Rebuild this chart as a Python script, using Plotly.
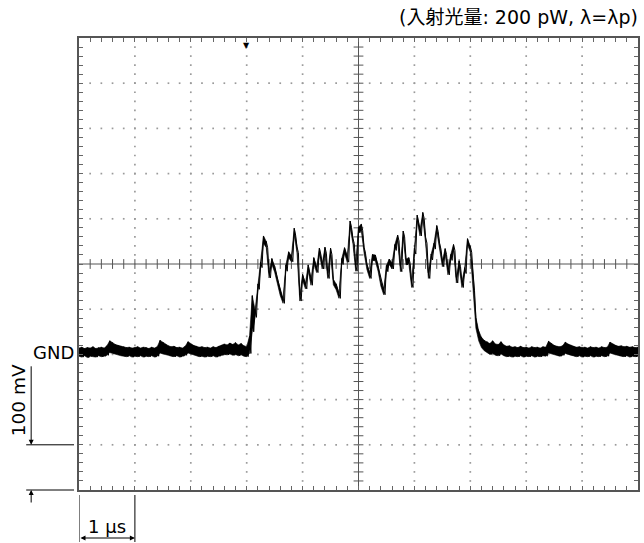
import plotly.graph_objects as go

# ---- data: oscilloscope record, one column every 0.05 us, envelope in mV relative to GND ----
COLUMN_US = 0.05
envelope_hi_mv = [
    14, 16, 13, 15, 14, 17, 13, 15, 16, 14,
    19, 30, 26, 22, 20, 18, 17, 15, 16, 14,
    15, 17, 14, 16, 15, 13, 16, 14, 17, 31,
    27, 22, 19, 17, 18, 15, 16, 14, 18, 28,
    23, 20, 18, 16, 17, 15, 16, 14, 17, 15,
    18, 20, 23, 21, 25, 22, 26, 21, 24, 19,
    17, 40, 130, 98, 156, 204, 262, 250, 182, 212,
    195, 167, 144, 124, 198, 227, 218, 279, 238, 131,
    177, 157, 198, 165, 214, 193, 235, 201, 237, 180,
    235, 166, 156, 135, 212, 236, 217, 295, 257, 197,
    282, 288, 237, 200, 181, 221, 220, 197, 164, 144,
    197, 211, 202, 243, 264, 196, 273, 211, 214, 161,
    235, 308, 275, 314, 259, 181, 222, 246, 285, 246,
    207, 234, 189, 221, 243, 171, 207, 161, 192, 256,
    239, 178, 82, 52, 38, 31, 28, 24, 30, 23,
    22, 28, 21, 18, 19, 16, 17, 15, 18, 15,
    16, 14, 17, 15, 16, 14, 17, 16, 29, 24,
    20, 18, 17, 19, 27, 23, 20, 18, 16, 17,
    15, 16, 14, 17, 15, 16, 14, 17, 15, 16,
    27, 23, 20, 18, 19, 17, 18, 16, 17, 15,
    16,
]
envelope_lo_mv = [
    -4, -6, -3, -7, -4, -5, -6, -3, -5, -4,
    -2, 4, 2, 1, -1, -3, -4, -5, -3, -6,
    -4, -5, -3, -6, -4, -5, -3, -6, -4, 3,
    1, 0, -2, -4, -5, -3, -6, -4, -2, 3,
    1, -1, -3, -5, -4, -6, -4, -5, -3, -6,
    -4, -2, 0, -1, 1, -2, 0, -3, -1, -4,
    -5, 2, 50, 82, 144, 192, 246, 236, 169, 199,
    182, 155, 130, 113, 184, 214, 205, 264, 225, 118,
    164, 145, 184, 153, 201, 181, 222, 189, 224, 168,
    221, 154, 143, 124, 199, 223, 204, 281, 245, 184,
    269, 274, 224, 188, 168, 208, 207, 184, 151, 132,
    183, 199, 189, 230, 251, 183, 260, 198, 201, 148,
    222, 295, 262, 301, 246, 168, 209, 233, 272, 233,
    194, 221, 176, 208, 230, 158, 194, 148, 179, 243,
    226, 142, 58, 30, 15, 8, 4, 0, 2, -2,
    -3, 1, -3, -5, -4, -6, -4, -5, -3, -6,
    -4, -5, -3, -6, -4, -5, -3, -4, 3, 1,
    -1, -3, -4, -2, 2, 0, -2, -4, -5, -3,
    -6, -4, -5, -3, -6, -4, -5, -3, -5, -4,
    3, 1, -1, -3, -4, -5, -3, -6, -4, -5,
    -4,
]
time_us = [i * COLUMN_US for i in range(len(envelope_hi_mv))]

X_RANGE = [0, 10]          # 1 us/div, 10 div
Y_RANGE = [-300, 700]      # 100 mV/div, GND 2 div below centre
X_CENTER, Y_CENTER = 5, 200
TRIGGER_US = 3
TITLE = "(入射光量: 200 pW, λ=λp)"

FONT = "DejaVu Sans, Noto Sans CJK JP, sans-serif"
GRID = "#9a9a9a"

fig = go.Figure()

# dotted graticule
gx, gy = [], []
for xv in range(1, 10):
    if xv == X_CENTER:
        continue
    for k in range(1, 50):
        gx.append(xv); gy.append(Y_RANGE[0] + 20 * k)
for yv in range(-200, 700, 100):
    if yv == Y_CENTER:
        continue
    for k in range(1, 50):
        gx.append(0.2 * k); gy.append(yv)
fig.add_trace(go.Scatter(x=gx, y=gy, mode="markers", hoverinfo="skip",
                         marker=dict(symbol="square", size=1.7, color=GRID, line=dict(width=0))))

# ticks on centre cross
cx = [0.2 * k for k in range(1, 50)]
fig.add_trace(go.Scatter(x=cx, y=[Y_CENTER] * len(cx), mode="markers", hoverinfo="skip",
                         marker=dict(symbol="line-ns", size=7, line=dict(width=1, color="#555"))))
cy = [Y_RANGE[0] + 20 * k for k in range(1, 50)]
fig.add_trace(go.Scatter(x=[X_CENTER] * len(cy), y=cy, mode="markers", hoverinfo="skip",
                         marker=dict(symbol="line-ew", size=7, line=dict(width=1, color="#555"))))

# signal envelope: solid core ...
fig.add_trace(go.Scatter(x=time_us, y=envelope_lo_mv, mode="lines",
                         line=dict(color="black", width=0.6), hoverinfo="skip"))
fig.add_trace(go.Scatter(x=time_us, y=envelope_hi_mv, mode="lines", fill="tonexty",
                         fillcolor="black", line=dict(color="black", width=0.6), hoverinfo="skip"))
# ... plus the scribble: each column drawn top -> bottom
zx, zy = [], []
for t, h, l in zip(time_us, envelope_hi_mv, envelope_lo_mv):
    zx += [t, t + COLUMN_US / 2]
    zy += [h, l]
fig.add_trace(go.Scatter(x=zx, y=zy, mode="lines", line=dict(color="black", width=1.0),
                         hoverinfo="skip"))

# centre cross lines
fig.add_shape(type="line", x0=X_CENTER, x1=X_CENTER, y0=Y_RANGE[0], y1=Y_RANGE[1],
              xref="x", yref="y", line=dict(color="#555", width=1), layer="below")
fig.add_shape(type="line", x0=X_RANGE[0], x1=X_RANGE[1], y0=Y_CENTER, y1=Y_CENTER,
              xref="x", yref="y", line=dict(color="#555", width=1), layer="below")

axis_common = dict(showgrid=False, zeroline=False, showline=True, linecolor="#555",
                   linewidth=2, mirror="allticks", ticks="inside", ticklen=4,
                   tickcolor="#666", tickwidth=1, showticklabels=False, fixedrange=True)
fig.update_xaxes(range=X_RANGE, tick0=0, dtick=0.2, **axis_common)
fig.update_yaxes(range=Y_RANGE, tick0=Y_RANGE[0], dtick=20, **axis_common)

# scale marks (paper coords: plot is 561 x 452 px)
W, H = 561.0, 452.0
def px(xp):
    return (xp - 79) / W
def py(yp):
    return (490 - yp) / H

def txt(size):
    return dict(family=FONT, size=size, color="black")

# 100 mV bar
fig.add_shape(type="line", xref="paper", yref="paper", x0=px(26), x1=px(74), y0=0.1, y1=0.1,
              line=dict(color="black", width=1))
fig.add_shape(type="line", xref="paper", yref="paper", x0=px(26), x1=px(74), y0=0, y1=0,
              line=dict(color="black", width=1))
fig.add_annotation(xref="paper", yref="paper", x=px(31), y=0.1, ax=0, ay=-80, text="",
                   showarrow=True, arrowhead=2, arrowsize=1, arrowwidth=1, arrowcolor="black")
fig.add_annotation(xref="paper", yref="paper", x=px(31), y=0, ax=0, ay=14, text="",
                   showarrow=True, arrowhead=2, arrowsize=1, arrowwidth=1, arrowcolor="black")
fig.add_annotation(xref="paper", yref="paper", x=px(18), y=py(400), text="100 mV",
                   xanchor="center", yanchor="middle", textangle=-90, showarrow=False,
                   font=txt(18.5))

# 1 us bar
fig.add_shape(type="line", xref="x", yref="paper", x0=0, x1=0, y0=py(495), y1=py(542),
              line=dict(color="black", width=1))
fig.add_shape(type="line", xref="x", yref="paper", x0=1, x1=1, y0=py(495), y1=py(542),
              line=dict(color="black", width=1))
fig.add_annotation(xref="x", yref="paper", x=1, y=py(538), axref="x", ax=0, ay=0, text="",
                   showarrow=True, arrowhead=2, arrowside="end+start", arrowsize=1,
                   arrowwidth=1, arrowcolor="black")
fig.add_annotation(xref="x", yref="paper", x=0.5, y=py(526), text="1 μs", showarrow=False,
                   xanchor="center", yanchor="middle", font=txt(18))

# GND label
fig.add_annotation(xref="paper", yref="y", x=px(76), y=5, text="GND", xanchor="right",
                   yanchor="middle", showarrow=False, font=txt(18))

# trigger marker
fig.add_annotation(xref="x", yref="paper", x=TRIGGER_US, y=1, yanchor="top", xanchor="center",
                   yshift=-1, text="▼", showarrow=False, font=txt(8))

# title
fig.add_annotation(xref="paper", yref="paper", x=px(642), y=py(17), xanchor="right",
                   yanchor="middle", text=TITLE, showarrow=False, font=txt(19))

fig.update_layout(width=644, height=543, margin=dict(l=79, r=4, t=38, b=53),
                  paper_bgcolor="white", plot_bgcolor="white", showlegend=False)

fig.write_html("out.html", config={"displayModeBar": False},
               post_script="document.body.style.margin='0';document.body.style.padding='0';"
                           "document.documentElement.style.overflow='hidden';")
